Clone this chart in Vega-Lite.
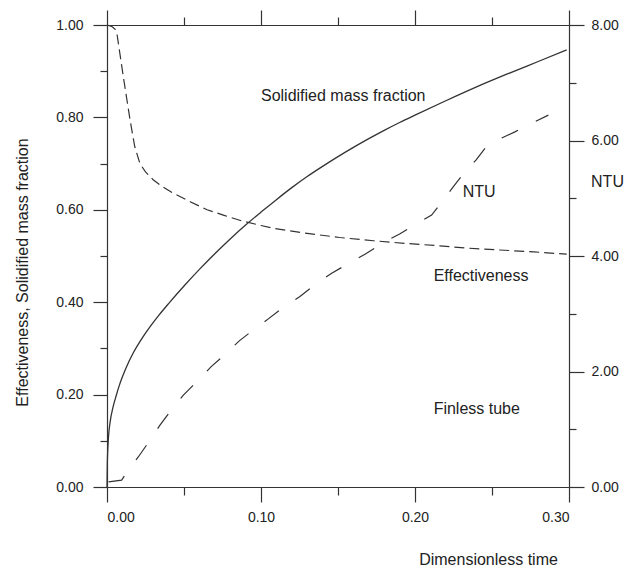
{
  "$schema": "https://vega.github.io/schema/vega-lite/v6.json",
  "width": 462,
  "height": 462,
  "autosize": {"type": "none"},
  "padding": {"left": 107, "top": 25, "right": 63, "bottom": 80},
  "background": "white",
  "config": {
    "view": {"stroke": null},
    "font": "Liberation Sans",
    "axis": {
      "grid": false,
      "domainColor": "#333",
      "tickColor": "#333",
      "labelColor": "#222",
      "titleColor": "#222",
      "labelFont": "Liberation Sans",
      "titleFont": "Liberation Sans",
      "labelFontSize": 14,
      "titleFontSize": 16,
      "titleFontWeight": "normal",
      "domainWidth": 1.2,
      "tickWidth": 1.2
    }
  },
  "datasets": {
    "solid": [
      {"t": 0, "v": 0}, {"t": 0.0002, "v": 0.05}, {"t": 0.0005, "v": 0.08}, {"t": 0.001, "v": 0.11},
      {"t": 0.002, "v": 0.14}, {"t": 0.004, "v": 0.174}, {"t": 0.006, "v": 0.198}, {"t": 0.008, "v": 0.22},
      {"t": 0.012, "v": 0.255}, {"t": 0.017, "v": 0.29}, {"t": 0.022, "v": 0.318}, {"t": 0.028, "v": 0.347},
      {"t": 0.034, "v": 0.373}, {"t": 0.04, "v": 0.397}, {"t": 0.05, "v": 0.435}, {"t": 0.06, "v": 0.471},
      {"t": 0.07, "v": 0.505}, {"t": 0.08, "v": 0.537}, {"t": 0.09, "v": 0.567}, {"t": 0.1, "v": 0.595},
      {"t": 0.11, "v": 0.622}, {"t": 0.12, "v": 0.648}, {"t": 0.13, "v": 0.672}, {"t": 0.14, "v": 0.694},
      {"t": 0.15, "v": 0.715}, {"t": 0.16, "v": 0.735}, {"t": 0.17, "v": 0.754}, {"t": 0.18, "v": 0.772},
      {"t": 0.19, "v": 0.789}, {"t": 0.2, "v": 0.805}, {"t": 0.22, "v": 0.836}, {"t": 0.24, "v": 0.866},
      {"t": 0.26, "v": 0.894}, {"t": 0.28, "v": 0.921}, {"t": 0.2985, "v": 0.946}
    ],
    "eff": [
      {"t": 0, "v": 1.0}, {"t": 0.003, "v": 0.997}, {"t": 0.0055, "v": 0.99}, {"t": 0.0065, "v": 0.98},
      {"t": 0.0106, "v": 0.888}, {"t": 0.015, "v": 0.794}, {"t": 0.018, "v": 0.737}, {"t": 0.0214, "v": 0.70},
      {"t": 0.025, "v": 0.682}, {"t": 0.03, "v": 0.665}, {"t": 0.036, "v": 0.65}, {"t": 0.043, "v": 0.636},
      {"t": 0.054, "v": 0.6175}, {"t": 0.065, "v": 0.60}, {"t": 0.076, "v": 0.588}, {"t": 0.0875, "v": 0.576},
      {"t": 0.1, "v": 0.566}, {"t": 0.108, "v": 0.56}, {"t": 0.13, "v": 0.549}, {"t": 0.151, "v": 0.54},
      {"t": 0.173, "v": 0.533}, {"t": 0.195, "v": 0.527}, {"t": 0.216, "v": 0.522}, {"t": 0.234, "v": 0.517},
      {"t": 0.255, "v": 0.513}, {"t": 0.277, "v": 0.509}, {"t": 0.2985, "v": 0.504}
    ],
    "ntu": [
      {"t": 0.001, "n": 0.09}, {"t": 0.0095, "n": 0.12}, {"t": 0.015, "n": 0.34}, {"t": 0.0203, "n": 0.52},
      {"t": 0.0279, "n": 0.81}, {"t": 0.0344, "n": 1.07}, {"t": 0.0416, "n": 1.33}, {"t": 0.0496, "n": 1.59},
      {"t": 0.0578, "n": 1.81}, {"t": 0.0675, "n": 2.08}, {"t": 0.076, "n": 2.28}, {"t": 0.0859, "n": 2.53},
      {"t": 0.095, "n": 2.72}, {"t": 0.1037, "n": 2.89}, {"t": 0.1134, "n": 3.09}, {"t": 0.1253, "n": 3.30},
      {"t": 0.1362, "n": 3.53}, {"t": 0.1459, "n": 3.70}, {"t": 0.1567, "n": 3.87}, {"t": 0.1675, "n": 4.03},
      {"t": 0.1805, "n": 4.25}, {"t": 0.19, "n": 4.38}, {"t": 0.2, "n": 4.54}, {"t": 0.2108, "n": 4.71},
      {"t": 0.2184, "n": 4.97}, {"t": 0.2249, "n": 5.2}, {"t": 0.2325, "n": 5.46}, {"t": 0.2396, "n": 5.66},
      {"t": 0.247, "n": 5.92}, {"t": 0.252, "n": 5.99}, {"t": 0.2649, "n": 6.15}, {"t": 0.2736, "n": 6.27},
      {"t": 0.2866, "n": 6.44}
    ],
    "notes": [
      {"t": 0.1534, "v": 0.846, "label": "Solidified mass fraction"},
      {"t": 0.2416, "v": 0.6385, "label": "NTU"},
      {"t": 0.2429, "v": 0.4567, "label": "Effectiveness"},
      {"t": 0.2401, "v": 0.1688, "label": "Finless tube"}
    ]
  },
  "layer": [
    {
      "data": {"name": "solid"},
      "mark": {"type": "line", "interpolate": "monotone", "color": "#333", "strokeWidth": 1.3},
      "encoding": {
        "x": {"field": "t", "type": "quantitative", "scale": {"domain": [0, 0.3], "nice": false},
          "axis": {"orient": "bottom", "values": [0, 0.1, 0.2, 0.3], "format": ".2f", "tickSize": 15, "labelPadding": 8,
            "title": "Dimensionless time", "titleX": 381, "titleY": 72, "titleAlign": "center", "titleBaseline": "middle"}},
        "y": {"field": "v", "type": "quantitative", "scale": {"domain": [0, 1], "nice": false},
          "axis": {"orient": "left", "values": [0, 0.2, 0.4, 0.6, 0.8, 1], "format": ".2f", "tickSize": 14, "labelPadding": 10,
            "title": "Effectiveness, Solidified mass fraction", "titleAngle": 270, "titleX": -85, "titleY": 247,
            "titleAlign": "center", "titleBaseline": "middle"}}
      }
    },
    {
      "data": {"name": "eff"},
      "mark": {"type": "line", "color": "#333", "strokeWidth": 1.2, "strokeDash": [10, 5]},
      "encoding": {
        "x": {"field": "t", "type": "quantitative", "scale": {"domain": [0, 0.3], "nice": false},
          "axis": {"orient": "bottom", "values": [0.05, 0.15, 0.25], "tickSize": 8, "labels": false, "domain": false, "title": null}},
        "y": {"field": "v", "type": "quantitative", "scale": {"domain": [0, 1], "nice": false},
          "axis": {"orient": "left", "values": [0.1, 0.3, 0.5, 0.7, 0.9], "tickSize": 7, "labels": false, "domain": false, "title": null}}
      }
    },
    {
      "data": {"name": "ntu"},
      "mark": {"type": "line", "color": "#333", "strokeWidth": 1.2, "strokeDash": [18, 20]},
      "encoding": {
        "x": {"field": "t", "type": "quantitative", "scale": {"domain": [0, 0.3], "nice": false},
          "axis": {"orient": "top", "values": [0, 0.1, 0.2, 0.3], "tickSize": 15, "labels": false, "domain": true, "title": null}},
        "y": {"field": "n", "type": "quantitative", "scale": {"domain": [0, 8], "nice": false},
          "axis": {"orient": "right", "values": [0, 2, 4, 6, 8], "format": ".2f", "tickSize": 15, "labelPadding": 7,
            "title": "NTU", "titleAngle": 0, "titleX": 38, "titleY": 156, "titleAlign": "center", "titleBaseline": "middle"}}
      }
    },
    {
      "data": {"name": "ntu"},
      "mark": {"type": "line", "opacity": 0},
      "encoding": {
        "x": {"field": "t", "type": "quantitative", "scale": {"domain": [0, 0.3], "nice": false},
          "axis": {"orient": "top", "values": [0.05, 0.15, 0.25], "tickSize": 8, "labels": false, "domain": false, "title": null}},
        "y": {"field": "n", "type": "quantitative", "scale": {"domain": [0, 8], "nice": false},
          "axis": {"orient": "right", "values": [1, 3, 5, 7], "tickSize": 7, "labels": false, "domain": false, "title": null}}
      }
    },
    {
      "data": {"name": "notes"},
      "mark": {"type": "text", "fontSize": 16, "font": "Liberation Sans", "color": "#222", "align": "center", "baseline": "middle"},
      "encoding": {
        "x": {"field": "t", "type": "quantitative", "scale": {"domain": [0, 0.3], "nice": false}, "axis": null},
        "y": {"field": "v", "type": "quantitative", "scale": {"domain": [0, 1], "nice": false}, "axis": null},
        "text": {"field": "label"}
      }
    }
  ],
  "resolve": {
    "scale": {"y": "independent"},
    "axis": {"x": "independent", "y": "independent"}
  }
}
